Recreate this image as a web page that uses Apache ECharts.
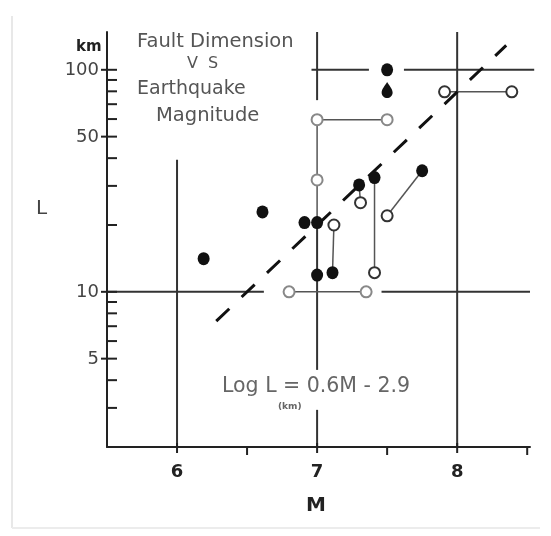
<!DOCTYPE html>
<html>
<head>
<meta charset="utf-8">
<script src="https://cdn.jsdelivr.net/npm/echarts@6/dist/echarts.min.js"></script>
<style>
  html, body { margin: 0; padding: 0; background: #fff; }
  #chart { width: 551px; height: 536px; }
</style>
</head>
<body>
<div id="chart"></div>
<script>
// Magnitude axis ticks
const xMajorTicks = [6, 7, 8];
const xMinorTicks = [6.5, 7.5, 8.5];
// Fault length axis ticks (km)
const yMajorTicks = [5, 10, 50, 100];
const yMinorTicks = [3, 4, 6, 7, 8, 9, 20, 30, 40, 60, 70, 80, 90];

// Observed events [M, L km]
const solidPoints = [
  [6.19, 14.1], [6.61, 22.9], [6.91, 20.5], [7.0, 20.5], [7.0, 11.9],
  [7.11, 12.2], [7.3, 30.3], [7.41, 32.7], [7.75, 35.1], [7.5, 100]
];
const dropPoints = [[7.5, 81]];
const openPoints = [
  [7.12, 20.0], [7.31, 25.2], [7.5, 22.0], [7.41, 12.2],
  [7.91, 79.6], [8.39, 79.6]
];
const openFaintPoints = [[7.0, 59.6], [7.5, 59.6], [6.8, 10], [7.35, 10], [7.0, 31.9]];

// Ranges joining alternative estimates of one event
const linkSegments = [
  [[6.8, 10], [7.35, 10]],
  [[7.0, 59.6], [7.5, 59.6]],
  [[7.0, 59.6], [7.0, 31.9]],
  [[7.0, 31.9], [7.0, 20.5]],
  [[7.12, 20.0], [7.11, 12.2]],
  [[7.3, 30.3], [7.31, 25.2]],
  [[7.41, 32.7], [7.41, 12.2]],
  [[7.75, 35.1], [7.5, 22.0]],
  [[7.91, 79.6], [8.39, 79.6]]
];

// Reference cross lines
const guideSegments = [
  [[6, 39.3], [6, 2]],
  [[7, 148], [7, 73]],
  [[7, 20.5], [7, 4.45]],
  [[7, 2.94], [7, 2]],
  [[8, 148], [8, 2]],
  [[5.5, 10], [6.62, 10]],
  [[7.46, 10], [8.52, 10]],
  [[6.96, 100], [7.37, 100]],
  [[7.62, 100], [8.55, 100]]
];

// Fitted relation: Log L = 0.6M - 2.9, drawn between these magnitudes
const fitSlope = 0.6;
const fitIntercept = -2.9;
const fitRange = [6.28, 8.35];
const fitLine = fitRange.map(m => [m, Math.pow(10, fitSlope * m + fitIntercept)]);

const X_MIN = 5.5, X_MAX = 8.52, Y_MIN = 2, Y_MAX = 148;
const INK = '#222';
const LABEL_FONT = 'DejaVu Sans, sans-serif';

function seg(api, a, b, style) {
  const p = api.coord(a), q = api.coord(b);
  return { type: 'line', shape: { x1: p[0], y1: p[1], x2: q[0], y2: q[1] }, style: style };
}

function renderFrame(params, api) {
  if (params.dataIndex !== 0) return null;
  const kids = [];
  const gridStyle = { stroke: '#333', lineWidth: 2 };
  guideSegments.forEach(s => kids.push(seg(api, s[0], s[1], gridStyle)));

  // y ticks
  yMinorTicks.forEach(v => {
    const p = api.coord([X_MIN, v]);
    kids.push({ type: 'line', shape: { x1: p[0], y1: p[1], x2: p[0] + 10, y2: p[1] },
      style: { stroke: INK, lineWidth: 2 } });
  });
  yMajorTicks.forEach(v => {
    const p = api.coord([X_MIN, v]);
    kids.push({ type: 'line', shape: { x1: p[0] - 6, y1: p[1], x2: p[0] + 10, y2: p[1] },
      style: { stroke: INK, lineWidth: 2 } });
    kids.push({ type: 'text', x: p[0] - 8, y: p[1] + 1,
      style: { text: String(v), fill: '#444', font: '18px ' + LABEL_FONT,
        align: 'right', verticalAlign: 'middle' } });
  });

  // x ticks
  xMajorTicks.forEach(v => {
    const p = api.coord([v, Y_MIN]);
    kids.push({ type: 'line', shape: { x1: p[0], y1: p[1] - 4, x2: p[0], y2: p[1] + 6 },
      style: { stroke: INK, lineWidth: 2 } });
    kids.push({ type: 'text', x: p[0], y: p[1] + 25,
      style: { text: String(v), fill: '#222', font: 'bold 18px ' + LABEL_FONT,
        align: 'center', verticalAlign: 'middle' } });
  });
  xMinorTicks.forEach(v => {
    const p = api.coord([v, Y_MIN]);
    kids.push({ type: 'line', shape: { x1: p[0], y1: p[1], x2: p[0], y2: p[1] + 8 },
      style: { stroke: INK, lineWidth: 2 } });
  });
  return { type: 'group', children: kids };
}

function renderLinks(params, api) {
  if (params.dataIndex !== 0) return null;
  const style = { stroke: '#555', lineWidth: 1.5 };
  return { type: 'group', children: linkSegments.map(s => seg(api, s[0], s[1], style)) };
}

const chart = echarts.init(document.getElementById('chart'), null, { renderer: 'canvas' });

chart.setOption({
  animation: false,
  backgroundColor: '#fff',
  grid: { left: 107, top: 32, width: 423, height: 415, containLabel: false },
  xAxis: {
    type: 'value', min: X_MIN, max: X_MAX,
    axisLine: { show: true, onZero: false, lineStyle: { color: INK, width: 2 } },
    axisTick: { show: false }, axisLabel: { show: false }, splitLine: { show: false }
  },
  yAxis: {
    type: 'log', logBase: 10, min: Y_MIN, max: Y_MAX,
    axisLine: { show: true, onZero: false, lineStyle: { color: INK, width: 2 } },
    axisTick: { show: false }, axisLabel: { show: false }, splitLine: { show: false }
  },
  graphic: [
    // faint edge of the printed page
    { type: 'line', shape: { x1: 12, y1: 16, x2: 12, y2: 528 }, style: { stroke: '#e8e8e8', lineWidth: 2 } },
    { type: 'line', shape: { x1: 12, y1: 528, x2: 540, y2: 528 }, style: { stroke: '#ececec', lineWidth: 2 } },
    { type: 'text', left: 76, top: 40, style: { text: 'km', fill: '#222', font: 'bold 15px ' + LABEL_FONT } },
    { type: 'text', left: 36, top: 199, style: { text: 'L', fill: '#444', font: '20px ' + LABEL_FONT } },
    { type: 'text', left: 306, top: 496, style: { text: 'M', fill: '#222', font: 'bold 20px ' + LABEL_FONT } },
    { type: 'text', left: 137, top: 32, style: { text: 'Fault Dimension', fill: '#555', font: '19.5px ' + LABEL_FONT } },
    { type: 'text', left: 187, top: 56, style: { text: 'V  S', fill: '#555', font: '16px ' + LABEL_FONT } },
    { type: 'text', left: 137, top: 80, style: { text: 'Earthquake', fill: '#555', font: '19px ' + LABEL_FONT } },
    { type: 'text', left: 156, top: 106, style: { text: 'Magnitude', fill: '#555', font: '19.5px ' + LABEL_FONT } },
    { type: 'text', left: 222, top: 376, style: { text: 'Log L = 0.6M - 2.9', fill: '#666', font: '20.5px ' + LABEL_FONT } },
    { type: 'text', left: 278, top: 402, style: { text: '(km)', fill: '#666', font: 'bold 9px ' + LABEL_FONT } }
  ],
  series: [
    { type: 'custom', renderItem: renderFrame, data: [[X_MIN, 10]], clip: false, z: 1, silent: true },
    { type: 'custom', renderItem: renderLinks, data: [[X_MIN, 10]], clip: false, z: 2, silent: true },
    {
      type: 'line', data: fitLine, symbol: 'none', z: 3, silent: true,
      lineStyle: { color: '#111', width: 3, type: [18, 17], cap: 'butt' }
    },
    {
      type: 'scatter', data: openFaintPoints, symbol: 'circle', symbolSize: 11, z: 4,
      itemStyle: { color: '#fff', borderColor: '#888', borderWidth: 2, opacity: 1 }
    },
    {
      type: 'scatter', data: openPoints, symbol: 'circle', symbolSize: 11, z: 4,
      itemStyle: { color: '#fff', borderColor: '#333', borderWidth: 2, opacity: 1 }
    },
    {
      type: 'scatter', data: solidPoints, symbol: 'circle', symbolSize: [12, 13], z: 5,
      itemStyle: { color: '#111', opacity: 1 }
    },
    {
      type: 'scatter', data: dropPoints, z: 5,
      symbol: 'path://M6,0 C8,4 12,9 12,13 C12,17 9,20 6,20 C3,20 0,17 0,13 C0,9 4,4 6,0 Z',
      symbolSize: [11, 16],
      itemStyle: { color: '#111', opacity: 1 }
    }
  ]
});
</script>
</body>
</html>
